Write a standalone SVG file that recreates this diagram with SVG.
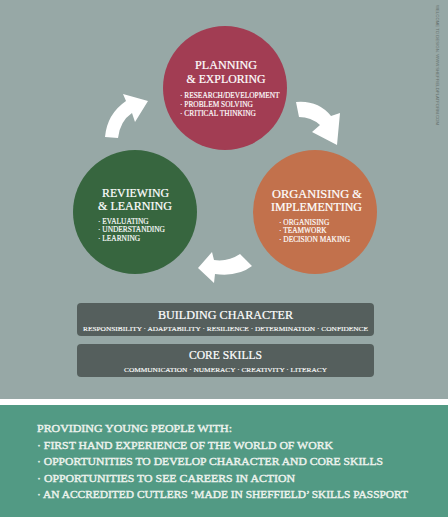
<svg xmlns="http://www.w3.org/2000/svg" width="448" height="517" viewBox="0 0 448 517">
<style>
.t{font-family:"Liberation Serif","DejaVu Serif",serif;fill:#ffffff;}
.h{font-size:12px;text-anchor:middle;stroke:#ffffff;stroke-width:0.2;}
.b{font-size:7.4px;stroke:#ffffff;stroke-width:0.15;}
.bh{font-size:12px;text-anchor:middle;stroke:#ffffff;stroke-width:0.2;}
.bs{font-size:6.6px;text-anchor:middle;stroke:#ffffff;stroke-width:0.12;}
.p{font-size:11px;fill:#eef3ee;stroke:#eef3ee;stroke-width:0.4;}
.arrow{fill:#ffffff;}
.box{fill:#555f5d;}
</style>
<rect x="0" y="0" width="448" height="399" fill="#97a8a6"/>
<rect x="0" y="399" width="448" height="6" fill="#ffffff"/>
<rect x="0" y="405" width="448" height="112" fill="#529a84"/>
<text transform="translate(436,5) rotate(90)" font-family="Liberation Sans, sans-serif" font-size="3.8" fill="#66726f" textLength="120" lengthAdjust="spacingAndGlyphs">WELCOME TO DESIGN. WWW.SHEFFIELDPLATFORM.COM</text>

<g id="connectors">
<path class="arrow" d="M105,137 Q107,114 126,101 L123,94 L148,101 L135,122 L132,113 Q120,121 118,138 Z"/>
<path class="arrow" d="M296,102 Q318,100 331,116 L340,113 L337,145 L312,132 L320,125 Q311,117 299,117 Z"/>
<path class="arrow" d="M240,254 Q228,262 214,260 L212,252 L198,268 L214,283 L215,274 Q238,277 252,266 Z"/>
</g>

<g id="planning">
<circle cx="225" cy="88" r="62" fill="#a23d53"/>
<text class="t h" x="226" y="68.5" textLength="62" lengthAdjust="spacingAndGlyphs">PLANNING</text>
<text class="t h" x="226" y="83" textLength="79" lengthAdjust="spacingAndGlyphs">&amp; EXPLORING</text>
<text class="t b" x="180" y="98">· RESEARCH/DEVELOPMENT</text>
<text class="t b" x="180" y="107">· PROBLEM SOLVING</text>
<text class="t b" x="180" y="115.5">· CRITICAL THINKING</text>
</g>

<g id="reviewing">
<circle cx="135" cy="212" r="62" fill="#37663f"/>
<text class="t h" x="135.5" y="196.5" textLength="67" lengthAdjust="spacingAndGlyphs">REVIEWING</text>
<text class="t h" x="135" y="209.5" textLength="74" lengthAdjust="spacingAndGlyphs">&amp; LEARNING</text>
<text class="t b" x="98" y="223.5">· EVALUATING</text>
<text class="t b" x="98" y="232">· UNDERSTANDING</text>
<text class="t b" x="98" y="241">· LEARNING</text>
</g>

<g id="organising">
<circle cx="315" cy="212" r="62" fill="#c2714c"/>
<text class="t h" x="317" y="197.5" textLength="90" lengthAdjust="spacingAndGlyphs">ORGANISING &amp;</text>
<text class="t h" x="316.5" y="210.5" textLength="91" lengthAdjust="spacingAndGlyphs">IMPLEMENTING</text>
<text class="t b" x="279" y="224.5">· ORGANISING</text>
<text class="t b" x="279" y="233">· TEAMWORK</text>
<text class="t b" x="279" y="242">· DECISION MAKING</text>
</g>

<g id="building-character">
<rect class="box" x="77" y="303" width="297" height="33" rx="4"/>
<text class="t bh" x="225.5" y="318.5" textLength="135" lengthAdjust="spacingAndGlyphs">BUILDING CHARACTER</text>
<text class="t bs" x="225.5" y="330.5" textLength="285" lengthAdjust="spacingAndGlyphs">RESPONSIBILITY · ADAPTABILITY · RESILIENCE · DETERMINATION · CONFIDENCE</text>
</g>

<g id="core-skills">
<rect class="box" x="77" y="344" width="297" height="33" rx="4"/>
<text class="t bh" x="225.5" y="358.5" textLength="73" lengthAdjust="spacingAndGlyphs">CORE SKILLS</text>
<text class="t bs" x="225.5" y="371.5" textLength="203" lengthAdjust="spacingAndGlyphs">COMMUNICATION · NUMERACY · CREATIVITY · LITERACY</text>
</g>

<g id="providing">
<text class="t p" x="37" y="432" textLength="195" lengthAdjust="spacingAndGlyphs">PROVIDING YOUNG PEOPLE WITH:</text>
<text class="t p" x="37" y="448.5" textLength="296" lengthAdjust="spacingAndGlyphs">· FIRST HAND EXPERIENCE OF THE WORLD OF WORK</text>
<text class="t p" x="37" y="465" textLength="346" lengthAdjust="spacingAndGlyphs">· OPPORTUNITIES TO DEVELOP CHARACTER AND CORE SKILLS</text>
<text class="t p" x="37" y="481.5" textLength="258" lengthAdjust="spacingAndGlyphs">· OPPORTUNITIES TO SEE CAREERS IN ACTION</text>
<text class="t p" x="37" y="498" textLength="371" lengthAdjust="spacingAndGlyphs">· AN ACCREDITED CUTLERS ‘MADE IN SHEFFIELD’ SKILLS PASSPORT</text>
</g>
</svg>
